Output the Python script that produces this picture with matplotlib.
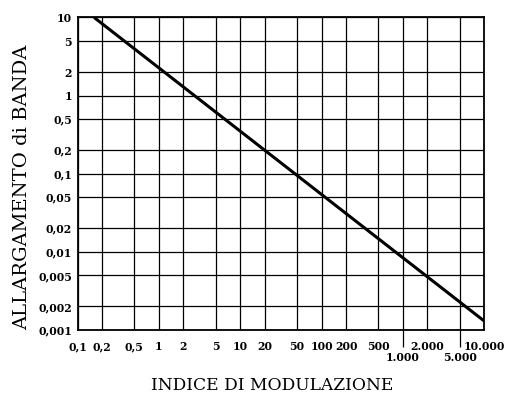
import matplotlib
matplotlib.use('Agg')
import matplotlib.pyplot as plt

# Scale 1-2-5 degli assi
x_ticks = [0.1, 0.2, 0.5, 1, 2, 5, 10, 20, 50, 100, 200, 500, 1000, 2000, 5000, 10000]
x_labels = ['0,1', '0,2', '0,5', '1', '2', '5', '10', '20', '50', '100', '200', '500',
            '1.000', '2.000', '5.000', '10.000']
y_ticks = [10, 5, 2, 1, 0.5, 0.2, 0.1, 0.05, 0.02, 0.01, 0.005, 0.002, 0.001]
y_labels = ['10', '5', '2', '1', '0,5', '0,2', '0,1', '0,05', '0,02', '0,01',
            '0,005', '0,002', '0,001']

# Etichette spostate in basso (con trattino di richiamo)
x_low = ['1.000', '5.000']

# Retta allargamento / indice (estremi)
line_x = [0.16, 10000]
line_y = [10, 0.0013]

fig = plt.figure(figsize=(5.11, 3.94), dpi=100)
ax = fig.add_axes([0.1517, 0.1624, 0.7961, 0.7932])

ax.set_xscale('log')
ax.set_yscale('log')
ax.set_xlim(0.1, 10000)
ax.set_ylim(0.001, 10)

ax.set_xticks(x_ticks)
ax.set_xticklabels(x_labels)
ax.set_yticks(y_ticks)
ax.set_yticklabels(y_labels)
ax.minorticks_off()

ax.grid(True, color='black', linewidth=0.9)
ax.set_axisbelow(True)
for s in ax.spines.values():
    s.set_linewidth(1.3)

ax.tick_params(axis='both', length=0, direction='out', width=0.9)
ax.tick_params(axis='x', pad=8)
ax.tick_params(axis='y', pad=4)
for lab in ax.get_xticklabels() + ax.get_yticklabels():
    lab.set_fontfamily('DejaVu Serif')
    lab.set_fontweight('bold')
    lab.set_fontsize(7.8)

# 1.000 e 5.000 piu in basso, con la linea della griglia prolungata
for tick, lab in zip(ax.xaxis.get_major_ticks(), x_labels):
    if lab in x_low:
        tick.set_pad(16)
        tick.tick1line.set_markersize(12)

ax.plot(line_x, line_y, color='black', linewidth=2.2, solid_capstyle='butt')

fig.text(272 / 511, 1 - 385 / 394, 'INDICE DI MODULAZIONE', family='DejaVu Serif',
         fontsize=12.3, ha='center', va='center')
fig.text(22 / 511, 1 - 187 / 394, 'ALLARGAMENTO di BANDA', family='DejaVu Serif',
         fontsize=14, ha='center', va='center', rotation=90)

fig.savefig('out.png', dpi=100)
